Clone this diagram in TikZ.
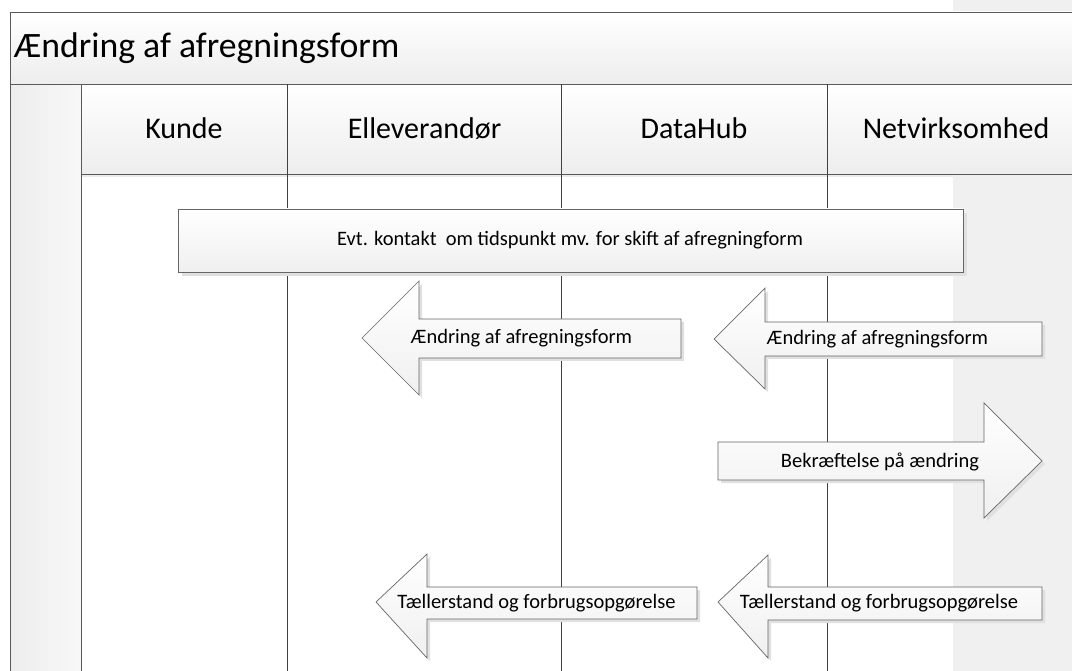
\documentclass[tikz,border=0pt]{standalone}
\usepackage{fontspec}
\setmainfont{Carlito}
\begin{document}
\begin{tikzpicture}[x=1pt,y=-1pt,
  frame/.style={draw=black!65, line width=0.8pt},
  band/.style={frame, top color=white, bottom color=black!7},
  shad/.style={fill=black!12, draw=none},
  arr/.style={draw=black!60, line width=0.7pt, top color=white, bottom color=black!6},
  lbl/.style={font=\fontsize{20.5}{24}\selectfont, inner sep=0pt},
  hdr/.style={font=\fontsize{30}{35}\selectfont, inner sep=0pt, anchor=base},
  lane/.style={draw=black!75, line width=0.8pt}]
\useasboundingbox (0,0) rectangle (1072,671);
% page margin band on the right
\fill[black!6] (953,0) rectangle (1072,671);
% left strip
\shade[left color=black!7, right color=black!3] (10,84) rectangle (81,671);
% header row and title band
\draw[band] (81,84) rectangle (1090,174);
\fill[black!8] (81,175) rectangle (953,177);
\draw[band] (10,12) rectangle (1090,84);
% borders and lane dividers
\draw[frame] (10,84) -- (10,671);
\draw[frame] (81,84) -- (81,671);
\draw[lane] (287,84) -- (287,671);
\draw[lane] (561,84) -- (561,671);
\draw[lane] (827,84) -- (827,671);
% title and lane headers
\node[anchor=base west, font=\fontsize{35.7}{40}\selectfont, inner sep=0pt] (title) at (14,58) {Ændring af afregningsform};
\node[hdr] (kunde) at (184,139) {Kunde};
\node[hdr] (elle) at (424.5,139) {Elleverandør};
\node[hdr] (dh) at (694,139) {DataHub};
\node[hdr] (net) at (956,139) {Netvirksomhed};
% contact box
\fill[shad] (182,213) rectangle (967,276);
\draw[arr] (178,209) rectangle (963,272);
\node[lbl] (evt) at (570,240.5) {Evt. kontakt\ \ om tidspunkt mv. for skift af afregningform};
% arrow 1
\fill[shad, shift={(3,3)}] (362,338) -- (419,281) -- (419,319) -- (681,319) -- (681,358) -- (419,358) -- (419,395) -- cycle;
\draw[arr] (362,338) -- (419,281) -- (419,319) -- (681,319) -- (681,358) -- (419,358) -- (419,395) -- cycle;
\node[lbl] (a1) at (521.5,338.5) {Ændring af afregningsform};
% arrow 2
\fill[shad, shift={(3,3)}] (714,339) -- (765,288) -- (765,322) -- (1042,322) -- (1042,356) -- (765,356) -- (765,389) -- cycle;
\draw[arr] (714,339) -- (765,288) -- (765,322) -- (1042,322) -- (1042,356) -- (765,356) -- (765,389) -- cycle;
\node[lbl] (a2) at (877.5,339) {Ændring af afregningsform};
% arrow 3
\fill[shad, shift={(3,3)}] (718,442) -- (984,442) -- (984,403) -- (1042,461) -- (984,518) -- (984,480) -- (718,480) -- cycle;
\draw[arr] (718,442) -- (984,442) -- (984,403) -- (1042,461) -- (984,518) -- (984,480) -- (718,480) -- cycle;
\node[lbl] (a3) at (880,461.5) {Bekræftelse på ændring};
% arrow 4
\fill[shad, shift={(3,3)}] (376,602) -- (427,554) -- (427,587) -- (697,587) -- (697,619) -- (427,619) -- (427,658) -- cycle;
\draw[arr] (376,602) -- (427,554) -- (427,587) -- (697,587) -- (697,619) -- (427,619) -- (427,658) -- cycle;
\node[lbl] (a4) at (536.5,603) {Tællerstand og forbrugsopgørelse};
% arrow 5
\fill[shad, shift={(3,3)}] (718,602) -- (768,555) -- (768,587) -- (1042,587) -- (1042,620) -- (768,620) -- (768,658) -- cycle;
\draw[arr] (718,602) -- (768,555) -- (768,587) -- (1042,587) -- (1042,620) -- (768,620) -- (768,658) -- cycle;
\node[lbl] (a5) at (879,603) {Tællerstand og forbrugsopgørelse};
\end{tikzpicture}
\end{document}
